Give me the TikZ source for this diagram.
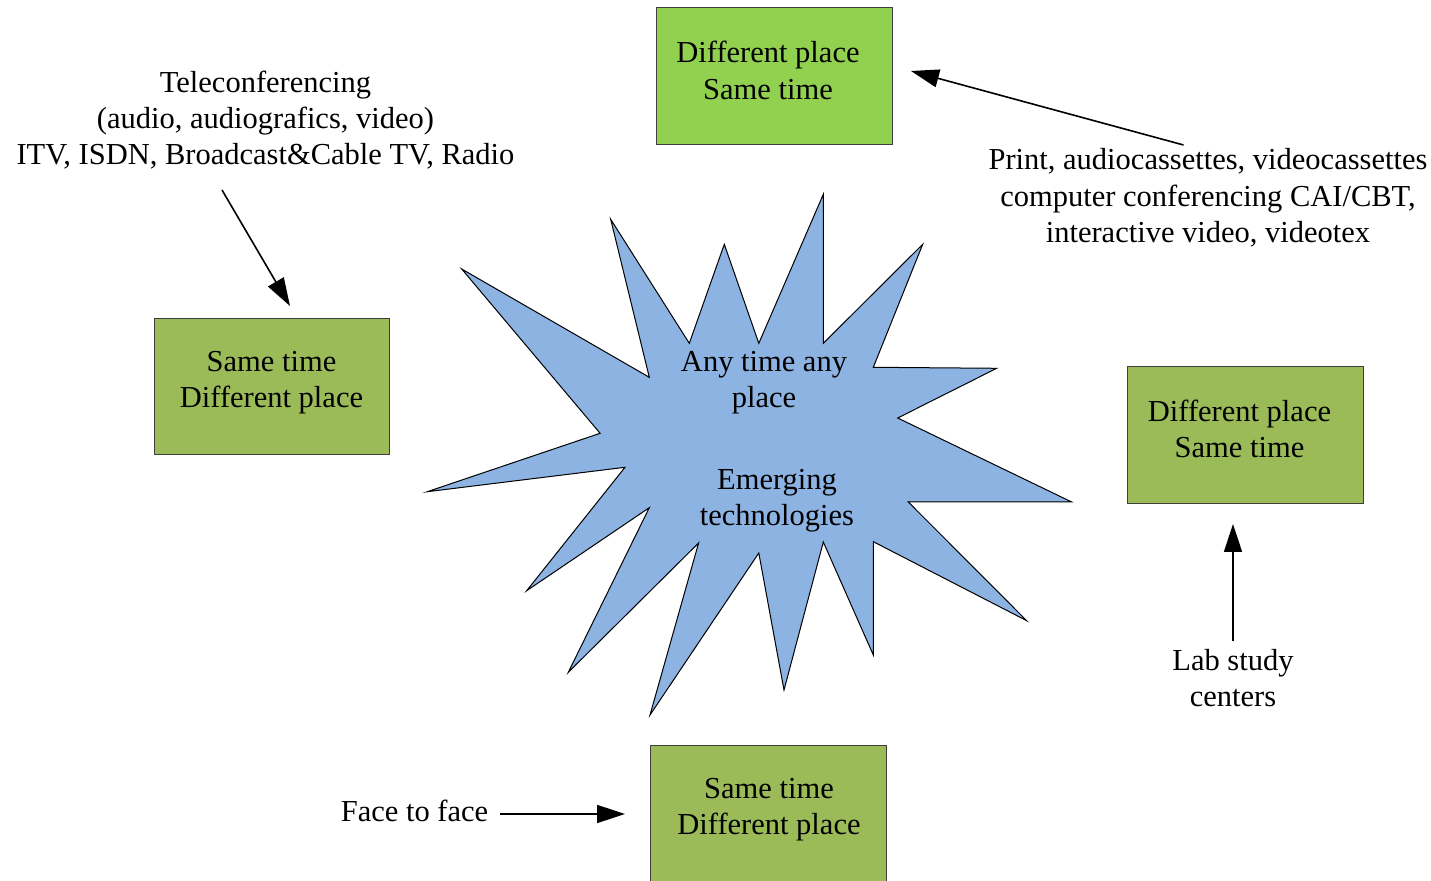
\documentclass[tikz,border=0pt]{standalone}
\usepackage{fontspec}
\setmainfont{Liberation Serif}
\usetikzlibrary{arrows.meta,fit}
\definecolor{brightgreen}{HTML}{92D050}
\definecolor{olivegreen}{HTML}{9BBB59}
\definecolor{starblue}{HTML}{8DB3E2}
\definecolor{boxedge}{HTML}{3F3F3F}
\begin{document}
\begin{tikzpicture}[x=0.5pt,y=-0.5pt,
  box/.style={draw=boxedge, line width=0.5pt, inner sep=0pt},
  txt/.style={align=center, inner sep=0pt, font=\fontsize{15.25}{18.15}\selectfont},
  arr/.style={line width=0.8pt, -{Triangle[length=14pt,width=9pt]}},
  starshape/.style={draw=black, fill=starblue, line width=0.5pt, line join=miter}]
\useasboundingbox (0,0) rectangle (1431,881);
\fill[white] (0,0) rectangle (1431,881);

% star burst
\draw[starshape] (823.3,194.3) -- (823.3,343.3) -- (922.7,244.3) -- (873.3,367.3)
  -- (996.7,368.3) -- (897.7,418) -- (1071.7,502) -- (908.3,502)
  -- (1026.7,620.7) -- (873.3,541.7) -- (873.3,655) -- (823.3,542)
  -- (784,690) -- (758.8,553) -- (650,715) -- (698.6,543)
  -- (568.3,672.3) -- (649.3,507.7) -- (526.7,590.7) -- (625,467.3)
  -- (427.3,491.7) -- (600.1,433.3) -- (461.7,269) -- (649.3,377.3)
  -- (610.7,219.3) -- (689.3,343.3) -- (724.3,244.3) -- (758.8,343.3) -- cycle;
\node[txt] (any) at (764,383) {Any time any\\place};
\node[txt] (emerg) at (777,501) {Emerging\\technologies};

% boxes
\node[box, fill=brightgreen, fit={(656,8) (892,145)}] (topbox) {};
\node[txt] (toptext) at (768,70.5) {Different place\\Same time};
\node[box, fill=olivegreen, fit={(154,319) (389,455)}] (leftbox) {};
\node[txt] (lefttext) at (271.5,382.5) {Same time\\Different place};
\node[box, fill=olivegreen, fit={(1127,367) (1363,504)}] (rightbox) {};
\node[txt] (righttext) at (1239.5,429) {Different place\\Same time};
\node[box, fill=olivegreen, fit={(650,746) (886,883)}] (botbox) {};
\node[txt] (bottext) at (769,810) {Same time\\Different place};

% labels
\node[txt] (tele) at (265.5,120) {Teleconferencing\\(audio, audiografics, video)\\ITV, ISDN, Broadcast\&Cable TV, Radio};
\node[txt] (print) at (1208,198) {Print, audiocassettes, videocassettes\\computer conferencing CAI/CBT,\\interactive video, videotex};
\node[txt] (lab) at (1233,678) {Lab study\\centers};
\node[txt] (face) at (414.5,811) {Face to face};

% connector ends
\coordinate (teleS) at (222,190);
\coordinate (teleE) at (290,306);
\coordinate (printS) at (1183.5,145);
\coordinate (printE) at (911,71);
\coordinate (labS) at (1233,641);
\coordinate (labE) at (1233,524);
\coordinate (faceS) at (500,814);
\coordinate (faceE) at (625,814);

\draw[arr] (teleS) -- (teleE);
\draw[arr] (printS) -- (printE);
\draw[arr] (labS) -- (labE);
\draw[arr] (faceS) -- (faceE);
\end{tikzpicture}
\end{document}
